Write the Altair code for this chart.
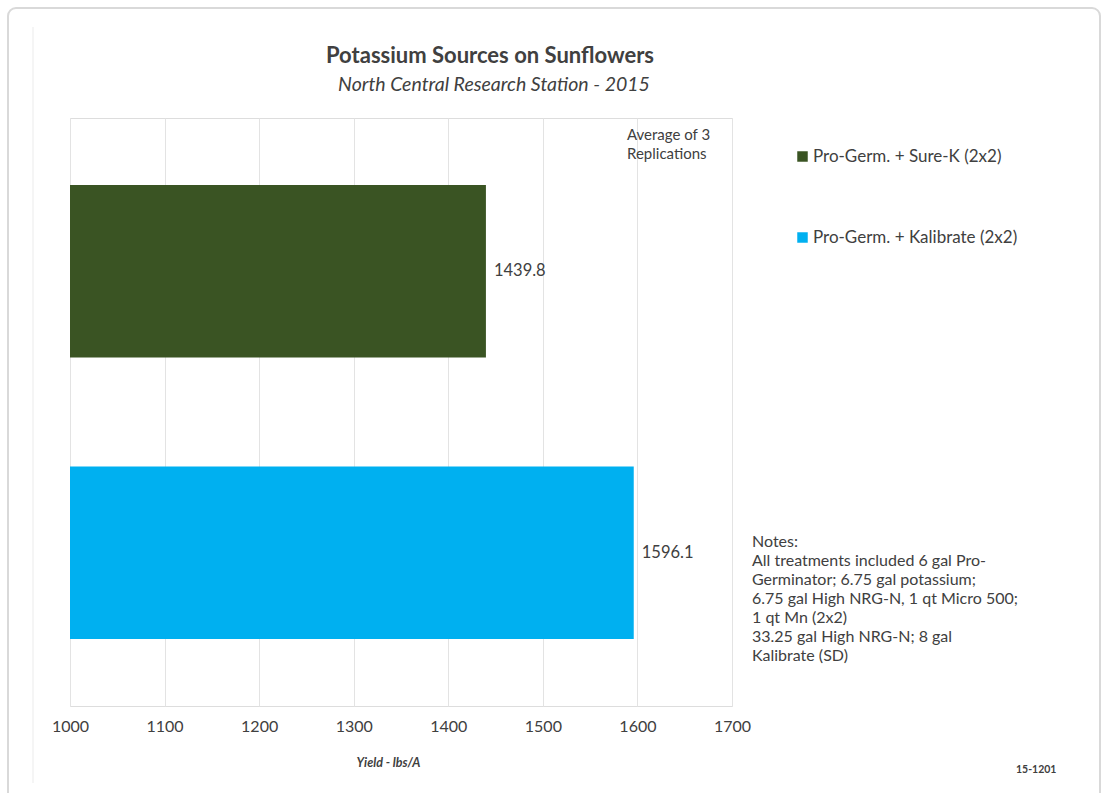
import altair as alt
import pandas as pd

treatments = ["Pro-Germ. + Sure-K (2x2)", "Pro-Germ. + Kalibrate (2x2)"]
yields = [1439.8, 1596.1]
colors = ["#3a5423", "#00b0f0"]
x_ticks = [1000, 1100, 1200, 1300, 1400, 1500, 1600, 1700]

title_text = "Potassium Sources on Sunflowers"
subtitle_text = "North Central Research Station - 2015"
axis_title = "Yield - lbs/A"
rep_note = ["Average of 3", "Replications"]
notes = [
    "Notes:",
    "All treatments included 6 gal Pro-",
    "Germinator; 6.75 gal potassium;",
    "6.75 gal High NRG-N, 1 qt Micro 500;",
    "1 qt Mn (2x2)",
    "33.25 gal High NRG-N; 8 gal",
    "Kalibrate (SD)",
]
code_text = "15-1201"

FONT = "Lato"
TXT = "#404040"

df = pd.DataFrame({"treatment": treatments, "yield": yields,
                   "label": [f"{v:.1f}" for v in yields]})

W, H = 662, 588
one = pd.DataFrame({"a": [0]})

y_enc = alt.Y("treatment:N", sort=treatments, axis=None,
              scale=alt.Scale(paddingInner=0.387, paddingOuter=0.238))
x_scale = alt.Scale(domain=[1000, 1700], zero=False, nice=False)

frame = alt.Chart(one).mark_rect(
    fill=None, stroke="#d9d9d9", strokeWidth=2, cornerRadius=8
).encode(x=alt.value(-62), x2=alt.value(1030), y=alt.value(-110), y2=alt.value(700))

faint = alt.Chart(one).mark_rule(color="#f2f2f2", strokeWidth=1.5).encode(
    x=alt.value(-37), y=alt.value(-91), y2=alt.value(665))

bars = alt.Chart(df).mark_bar().encode(
    x=alt.X("yield:Q", scale=x_scale,
            axis=alt.Axis(values=x_ticks, title=axis_title, grid=True, format="d",
                          gridColor="#e3e3e3", ticks=False, domain=False,
                          labelFlush=False,
                          labelFont=FONT, labelFontSize=16, labelColor=TXT,
                          labelPadding=12, titleFont=FONT, titleFontSize=12.5,
                          titleFontStyle="italic", titleFontWeight="bold",
                          titleColor=TXT, titlePadding=22, titleX=318)),
    x2=alt.datum(1000),
    y=y_enc,
    color=alt.Color("treatment:N", sort=treatments,
                    scale=alt.Scale(domain=treatments, range=colors),
                    legend=alt.Legend(title=None, orient="none", legendX=724, legendY=30,
                                      symbolType="square", symbolSize=110,
                                      symbolStrokeWidth=0, labelFont=FONT,
                                      labelFontSize=17, labelColor=TXT, labelLimit=400,
                                      rowPadding=63, labelOffset=2)),
)

labels = alt.Chart(df).mark_text(align="left", dx=8, font=FONT, fontSize=16.5,
                                 color=TXT).encode(
    x=alt.X("yield:Q", scale=x_scale), y=y_enc, text="label:N")

title_mark = alt.Chart(pd.DataFrame({"t": [title_text]})).mark_text(
    align="center", baseline="middle", font=FONT, fontSize=22, fontWeight="bold", color=TXT
).encode(x=alt.value(420), y=alt.value(-62), text="t")

subtitle_mark = alt.Chart(pd.DataFrame({"t": [subtitle_text]})).mark_text(
    align="center", baseline="middle", font=FONT, fontSize=19.5, fontStyle="italic", color=TXT
).encode(x=alt.value(424), y=alt.value(-33), text="t")

rep = alt.Chart(pd.DataFrame({"t": [rep_note]})).mark_text(
    align="left", baseline="top", font=FONT, fontSize=15, color=TXT, lineHeight=19
).encode(x=alt.value(557), y=alt.value(10), text="t")

notes_mark = alt.Chart(pd.DataFrame({"t": [notes]})).mark_text(
    align="left", baseline="top", font=FONT, fontSize=16, color=TXT, lineHeight=19
).encode(x=alt.value(682), y=alt.value(416), text="t")

code_mark = alt.Chart(pd.DataFrame({"t": [code_text]})).mark_text(
    align="left", baseline="middle", font=FONT, fontSize=10.5, fontWeight="bold", color=TXT
).encode(x=alt.value(946), y=alt.value(652), text="t")

chart = alt.layer(frame, faint, bars, labels, title_mark, subtitle_mark, rep,
                  notes_mark, code_mark).properties(
    width=W, height=H,
    padding={"left": 70, "top": 118, "right": 370, "bottom": 87},
    autosize=alt.AutoSizeParams(type="none"),
).configure_view(stroke="#c8c8c8", strokeWidth=1.5).configure(background="white")

chart.save("out.html", embed_options={"renderer": "svg", "actions": False})
